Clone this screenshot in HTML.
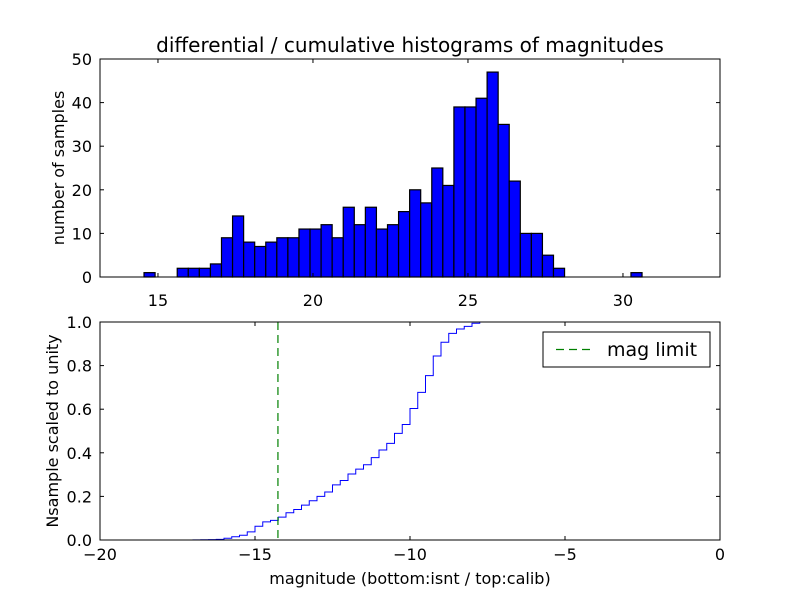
<!DOCTYPE html>
<html><head><meta charset="utf-8"><style>
html,body{margin:0;padding:0;background:#fff;}
svg{display:block;font-family:"DejaVu Sans","Liberation Sans",sans-serif;}
</style></head><body>
<svg id="c" width="800" height="600" viewBox="0 0 800 600">
<rect width="800" height="600" fill="#fff"/>
</svg>
<script>
// Top histogram data
const histStart = 14.55;
const histBinWidth = 0.357;
const histCounts = [1,0,0,2,2,2,3,9,14,8,7,8,9,9,11,11,12,9,16,12,16,11,12,15,20,17,25,21,39,39,41,47,35,22,10,10,5,2,0,0,0,0,0,0,1];
const topXTicks = [15,20,25,30];
const topYTicks = [0,10,20,30,40,50];
// Bottom cumulative data
const cumStart = -17.0;
const cumBinWidth = 0.25;
const cumValues = [0.0005,0.001,0.002,0.003,0.008,0.015,0.022,0.037,0.063,0.083,0.09,0.105,0.125,0.14,0.16,0.18,0.2,0.22,0.253,0.273,0.303,0.325,0.345,0.378,0.413,0.443,0.489,0.53,0.603,0.677,0.754,0.844,0.907,0.948,0.968,0.98,0.994,1.0];
const magLimit = -14.26;
const botXTicks = [-20,-15,-10,-5,0];
const botYTicks = [0.0,0.2,0.4,0.6,0.8,1.0];

const svg = document.getElementById('c');
const NS = 'http://www.w3.org/2000/svg';
function mk(tag, attrs, parent){ const e=document.createElementNS(NS,tag); for(const k in attrs) e.setAttribute(k,attrs[k]); (parent||svg).appendChild(e); return e; }

const L=100,R=720, T1=59,B1=277, T2=322,B2=540;
const x1 = v => L + (v-13.13)/20*(R-L);
const y1 = v => B1 - v/50*(B1-T1);
const x2 = v => L + (v+20)/20*(R-L);
const y2 = v => B2 - v*(B2-T2);

// Top bars
histCounts.forEach((c,i)=>{
  if(c<=0) return;
  const a=x1(histStart+i*histBinWidth), b=x1(histStart+(i+1)*histBinWidth);
  const r=mk('rect',{x:a,y:y1(c),width:b-a,height:B1-y1(c),fill:'#0000ff',stroke:'#000','stroke-width':1.2});
  
  
});
// Top frame
let f=mk('rect',{x:L,y:T1,width:R-L,height:B1-T1,fill:'none',stroke:'#000','stroke-width':1});
 
topXTicks.forEach(v=>{
  const X=x1(v);
  mk('line',{x1:X,x2:X,y1:B1,y2:B1-4,stroke:'#000'});
  mk('line',{x1:X,x2:X,y1:T1,y2:T1+4,stroke:'#000'});
  const t=mk('text',{x:X,y:B1+29,'text-anchor':'middle','font-size':16});
  t.textContent=v;
   
});
topYTicks.forEach(v=>{
  const Y=y1(v);
  mk('line',{x1:L,x2:L+4,y1:Y,y2:Y,stroke:'#000'});
  mk('line',{x1:R,x2:R-4,y1:Y,y2:Y,stroke:'#000'});
  const t=mk('text',{x:L-8,y:Y+6,'text-anchor':'end','font-size':16});
  t.textContent=v;
   
});
let tt=mk('text',{x:410,y:52,'text-anchor':'middle','font-size':20});
tt.textContent='differential / cumulative histograms of magnitudes';
 
let yl=mk('text',{x:64,y:168,'text-anchor':'middle','font-size':16,transform:'rotate(-90 64 168)'});
yl.textContent='number of samples';
 

// Bottom cumulative step line
let d='M'+x2(-20)+','+y2(0)+' L'+x2(cumStart)+','+y2(0);
cumValues.forEach((v,i)=>{
  const a=x2(cumStart+i*cumBinWidth), b=x2(cumStart+(i+1)*cumBinWidth);
  d+=' L'+a+','+y2(v)+' L'+b+','+y2(v);
});
d+=' L'+x2(0)+','+y2(1);
let p=mk('path',{d:d,fill:'none',stroke:'#0000ff','stroke-width':1});
 
let ml=mk('line',{x1:x2(magLimit),x2:x2(magLimit),y1:T2,y2:B2,stroke:'#008000','stroke-width':1.2,'stroke-dasharray':'8,5'});
 
f=mk('rect',{x:L,y:T2,width:R-L,height:B2-T2,fill:'none',stroke:'#000','stroke-width':1});
 
botXTicks.forEach(v=>{
  const X=x2(v);
  mk('line',{x1:X,x2:X,y1:B2,y2:B2-4,stroke:'#000'});
  mk('line',{x1:X,x2:X,y1:T2,y2:T2+4,stroke:'#000'});
  const t=mk('text',{x:X,y:B2+20,'text-anchor':'middle','font-size':16});
  t.textContent=(v<0?'\u2212'+(-v):v);
   
});
botYTicks.forEach(v=>{
  const Y=y2(v);
  mk('line',{x1:L,x2:L+4,y1:Y,y2:Y,stroke:'#000'});
  mk('line',{x1:R,x2:R-4,y1:Y,y2:Y,stroke:'#000'});
  const t=mk('text',{x:L-8,y:Y+6,'text-anchor':'end','font-size':16});
  t.textContent=v.toFixed(1);
   
});
let xl=mk('text',{x:410,y:584,'text-anchor':'middle','font-size':16});
xl.textContent='magnitude (bottom:isnt / top:calib)';
 
let yl2=mk('text',{x:58,y:431,'text-anchor':'middle','font-size':16,transform:'rotate(-90 58 431)'});
yl2.textContent='Nsample scaled to unity';
 

// Legend
const lg=mk('g',{});
 
mk('rect',{x:543,y:332,width:167,height:35,fill:'#fff',stroke:'#000','stroke-width':1},lg);
mk('line',{x1:556,x2:594,y1:349.5,y2:349.5,stroke:'#008000','stroke-width':1.2,'stroke-dasharray':'8,5'},lg);
let lt=mk('text',{x:607,y:356,'font-size':19},lg);
lt.textContent='mag limit';
 
</script>
</body></html>
